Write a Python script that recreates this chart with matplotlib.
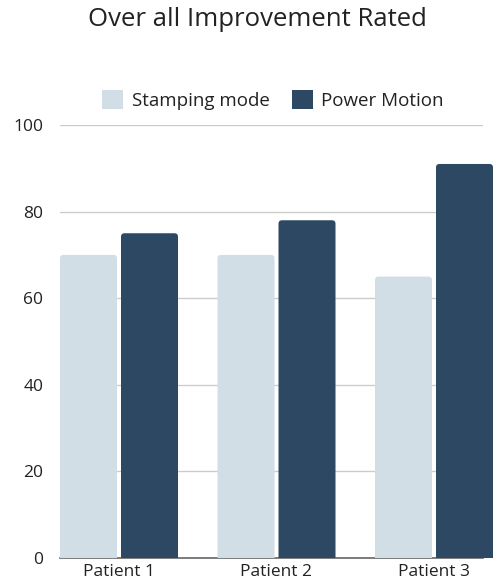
import matplotlib
matplotlib.use('Agg')
import matplotlib.pyplot as plt
from matplotlib.patches import FancyBboxPatch, Patch
from matplotlib.transforms import Bbox, TransformedBbox

# data
patients = ['Patient 1', 'Patient 2', 'Patient 3']
stamping_mode = [70, 70, 65]
power_motion = [75, 78, 91]
y_ticks = [0, 20, 40, 60, 80, 100]

light = '#d1dee6'
dark = '#2d4862'

plt.rcParams['font.family'] = ['Open Sans', 'DejaVu Sans']
plt.rcParams['text.color'] = '#222222'

fig = plt.figure(figsize=(5.02, 5.85), dpi=100)
W, H = 502, 585
ax = fig.add_axes([60 / W, 27 / H, 423 / W, 433 / H])

spacing = 157.5          # px between groups
bar_w = 57 / spacing     # bar width in data units
gap = 4 / spacing
x = list(range(len(patients)))
ax.set_xlim(-59 / spacing, (483 - 119) / spacing)
ax.set_ylim(0, 100)

# plain bars first, then swap them for rounded-top boxes
b1 = ax.bar([i - (bar_w + gap) / 2 for i in x], stamping_mode, width=bar_w, color=light)
b2 = ax.bar([i + (bar_w + gap) / 2 for i in x], power_motion, width=bar_w, color=dark)

px_x = 1 / spacing
px_y = 100 / 433
clip = TransformedBbox(Bbox([[-1, 0], [4, 200]]), ax.transData)
for cont in (b1, b2):
    for r in cont.patches:
        r.set_visible(False)
        fb = FancyBboxPatch((r.get_x(), -10), r.get_width(), r.get_height() + 10,
                            boxstyle='round,pad=0,rounding_size=%f' % (3.5 * px_x),
                            mutation_aspect=px_y / px_x,
                            facecolor=r.get_facecolor(), edgecolor='none',
                            clip_on=True, zorder=3)
        ax.add_patch(fb)
        fb.set_clip_box(clip)

ax.set_yticks(y_ticks)
ax.yaxis.grid(True, color='#cccccc', linewidth=1)
ax.set_axisbelow(True)
ax.set_xticks(x)
ax.set_xticklabels(patients)
ax.tick_params(axis='both', length=0, labelsize=12.5, colors='#222222')
ax.tick_params(axis='x', pad=4)
ax.tick_params(axis='y', pad=12)

for s in ['top', 'right', 'left']:
    ax.spines[s].set_visible(False)
ax.spines['bottom'].set_color('#666666')
ax.spines['bottom'].set_linewidth(1.2)

fig.text(257 / W, 1 - 19 / H, 'Over all Improvement Rated', ha='center', va='center',
         fontsize=18.5, color='#222222')

handles = [Patch(facecolor=light, edgecolor='none'), Patch(facecolor=dark, edgecolor='none')]
fig.legend(handles, ['Stamping mode', 'Power Motion'], loc='center',
           bbox_to_anchor=(273 / W, 1 - 100 / H), ncol=2, frameon=False,
           fontsize=13.5, handlelength=1.12, handleheight=1.12,
           handletextpad=0.45, columnspacing=1.2)

fig.savefig('out.png', dpi=100)
